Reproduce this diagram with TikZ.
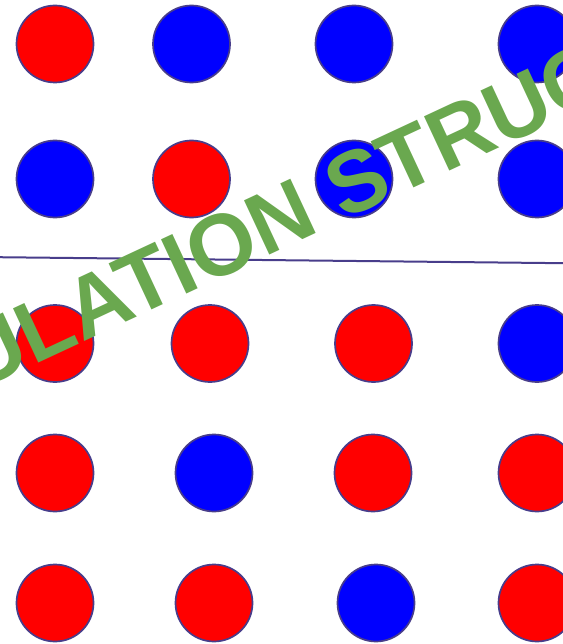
\documentclass[tikz,border=0pt]{standalone}
\usepackage{fontspec}
\setmainfont{Liberation Sans}
\usepackage{xcolor}
\usepackage{tikz}
\usetikzlibrary{positioning}
\definecolor{popEdge}{HTML}{483D8B}
\definecolor{popGreen}{HTML}{6AA84F}
\tikzset{
  pdot/.style={circle,draw=popEdge,line width=1.7pt,minimum size=77pt,inner sep=0pt},
  pred/.style={pdot,fill=red},
  pblue/.style={pdot,fill=blue},
  psplit/.style={draw=popEdge,line width=2pt},
  pmark/.style={text=popGreen,font=\fontsize{87}{87}\selectfont\bfseries,inner sep=0pt},
}
\begin{document}
\begin{tikzpicture}[x=1pt,y=-1pt]
\useasboundingbox (0,0) rectangle (562,644);
% upper group
\node[pred]  (a1) at (55,44) {};
\node[pblue] (a2) at (191.5,44) {};
\node[pblue] (a3) at (354,44) {};
\node[pblue] (a4) at (537,44) {};
\node[pblue] (b1) at (55,179) {};
\node[pred]  (b2) at (191.5,179) {};
\node[pblue] (b3) at (354,179) {};
\node[pblue] (b4) at (537,179) {};
% divider
\coordinate (sl) at (-2,257.2);
\coordinate (sr) at (564,263.2);
\draw[psplit] (sl) -- (sr);
% lower group
\node[pred]  (c1) at (55,343.5) {};
\node[pred]  (c2) at (210,343.5) {};
\node[pred]  (c3) at (373.5,343.5) {};
\node[pblue] (c4) at (537,343.5) {};
\node[pred]  (d1) at (55,473) {};
\node[pblue] (d2) at (214,473) {};
\node[pred]  (d3) at (373,473) {};
\node[pred]  (d4) at (537,473) {};
\node[pred]  (e1) at (55,603) {};
\node[pred]  (e2) at (214,603) {};
\node[pblue] (e3) at (376,603) {};
\node[pred]  (e4) at (537,603) {};
% watermark
\node[pmark,rotate=25,anchor=base] (title) at (320,231.7) {POPULATION STRUCTURE};
\end{tikzpicture}
\end{document}
